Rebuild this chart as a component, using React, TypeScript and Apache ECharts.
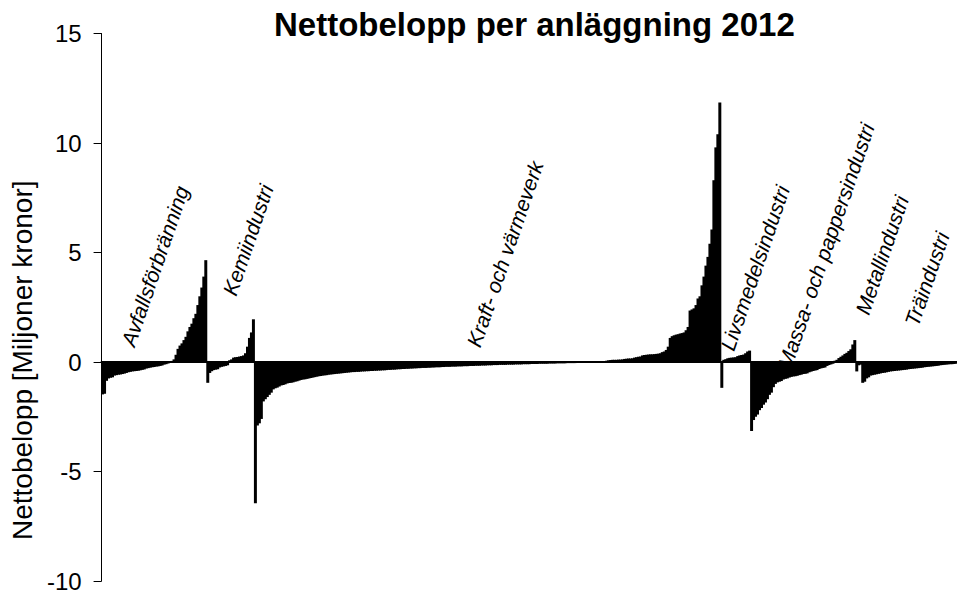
import React, { useEffect, useRef } from "react";
import * as echarts from "echarts";

const groupNames = [
  "Avfallsförbränning",
  "Kemiindustri",
  "Kraft- och värmeverk",
  "Livsmedelsindustri",
  "Massa- och pappersindustri",
  "Metallindustri",
  "Träindustri",
];

const avfall = [
  -1.48, -1.45, -0.86, -0.75, -0.72, -0.7, -0.62, -0.6, -0.58, -0.57, -0.55, -0.53, -0.5,
  -0.47, -0.45, -0.43, -0.42, -0.41, -0.4, -0.38, -0.36, -0.34, -0.3, -0.28, -0.26, -0.24,
  -0.23, -0.21, -0.2, -0.18, -0.16, -0.12, -0.1, -0.07, -0.04, 0.05, 0.12, 0.33, 0.6, 0.75,
  0.85, 1.0, 1.15, 1.4, 1.6, 1.75, 2.0, 2.2, 2.6, 3.0, 3.4, 3.9, 4.65,
];

const kemi = [
  -0.95, -0.5, -0.42, -0.37, -0.35, -0.33, -0.25, -0.22, -0.2, -0.18, -0.15, 0.08, 0.12,
  0.2, 0.22, 0.23, 0.25, 0.27, 0.3, 0.4, 0.7, 1.1, 1.35, 1.95,
];

const kraft = [
  -6.45, -2.9, -2.8, -2.6, -1.8, -1.7, -1.6, -1.5, -1.4,
  -1.25, -1.2, -1.17, -1.12,
  -1.07, -1.05, -1.02,
  -0.98, -0.96, -0.95, -0.93, -0.9, -0.88, -0.85,
  -0.82, -0.8, -0.79, -0.77, -0.75, -0.73, -0.71, -0.69,
  -0.67, -0.65, -0.64, -0.62, -0.61, -0.6, -0.58, -0.57,
  -0.56, -0.55, -0.54, -0.53, -0.52, -0.51, -0.5, -0.49, -0.48,
  -0.47, -0.46, -0.46, -0.45, -0.45, -0.44, -0.43, -0.43, -0.42, -0.42,
  -0.41, -0.41, -0.4, -0.4,
  -0.39, -0.39, -0.38, -0.38, -0.37, -0.36, -0.36, -0.35, -0.35, -0.34, -0.33, -0.33, -0.32,
  -0.32, -0.31, -0.31, -0.3,
  -0.3, -0.29, -0.29, -0.28, -0.28, -0.27, -0.27, -0.27, -0.26, -0.26, -0.25, -0.25, -0.24,
  -0.24, -0.24, -0.23,
  -0.23, -0.22, -0.22, -0.22, -0.21, -0.21, -0.21, -0.2, -0.2, -0.2, -0.19, -0.19, -0.19,
  -0.18, -0.18, -0.18, -0.17,
  -0.17, -0.17, -0.16, -0.16, -0.16, -0.15, -0.15, -0.15, -0.14, -0.14, -0.14, -0.13, -0.13,
  -0.13, -0.13, -0.12, -0.12,
  -0.12, -0.12, -0.11, -0.11, -0.11, -0.11, -0.1, -0.1, -0.1, -0.1, -0.09, -0.09, -0.09,
  -0.09, -0.08, -0.08,
  -0.08, -0.08, -0.08, -0.07, -0.07, -0.07, -0.07, -0.06, -0.06, -0.06, -0.06, -0.06, -0.05,
  -0.05, -0.05, -0.05, -0.05,
  -0.04, -0.04, -0.04, -0.03, -0.03, -0.03, -0.02, -0.02, -0.02, -0.01, -0.01, -0.01, 0,
  0.02, 0.04, 0.06, 0.08, 0.09, 0.1, 0.1, 0.1, 0.11, 0.11, 0.12,
  0.14, 0.15, 0.16, 0.16, 0.17,
  0.2, 0.22, 0.24, 0.25,
  0.3, 0.32, 0.33, 0.34, 0.35, 0.35, 0.36, 0.37, 0.38, 0.4,
  0.45, 0.48, 0.55, 0.7, 1.1, 1.18,
  1.22, 1.25, 1.27, 1.3, 1.32, 1.35,
  1.45, 1.6, 2.35, 2.4, 2.45, 2.6, 2.9, 3.0, 3.5, 3.9, 4.4, 4.8, 5.4, 6.05,
  8.3, 9.8, 10.4, 11.85,
];

const livsmedel = [
  -1.18, 0.1, 0.13, 0.17, 0.19, 0.2, 0.21, 0.22, 0.27, 0.3, 0.32, 0.34, 0.4, 0.48, 0.52,
];

const massa = [
  -3.15, -2.65, -2.5, -2.4, -2.2, -2.1, -1.95, -1.85, -1.7, -1.5, -1.4, -1.15,
  -1.0, -0.93, -0.9, -0.87, -0.8, -0.77, -0.75, -0.71, -0.68, -0.66, -0.65, -0.63,
  -0.6, -0.58, -0.55, -0.54, -0.52, -0.47, -0.44, -0.41, -0.39, -0.37,
  -0.32, -0.29, -0.27, -0.25, -0.18, -0.14, -0.11, -0.08,
  0.06, 0.1, 0.18, 0.24, 0.3, 0.37, 0.42, 0.5, 0.58, 0.8, 1.0,
];

const metall = [-0.43, -0.15, -0.12];

const tra = [
  -0.95, -0.9, -0.75, -0.7, -0.62, -0.6, -0.58, -0.56,
  -0.54, -0.52, -0.5, -0.49, -0.47, -0.45,
  -0.43, -0.42, -0.41, -0.4, -0.39, -0.38, -0.37, -0.36, -0.35,
  -0.33, -0.32, -0.31, -0.3, -0.29, -0.28, -0.27, -0.26,
  -0.24, -0.23, -0.22, -0.21, -0.2, -0.19, -0.18, -0.17,
  -0.15, -0.14, -0.13, -0.12, -0.11, -0.1, -0.1, -0.09, -0.08,
];

const yMin = -10;
const yMax = 15;
const yStep = 5;

const FONT = '"Liberation Sans", Arial, Helvetica, sans-serif';

export default function App() {
  const ref = useRef<HTMLDivElement>(null);

  useEffect(() => {
    document.body.style.margin = "0";
    const chart = echarts.init(ref.current!, null, { renderer: "svg" });
    const groups = [avfall, kemi, kraft, livsmedel, massa, metall, tra];
    const categories: string[] = [];
    const values: number[] = [];
    groups.forEach((g, gi) =>
      g.forEach((v, i) => {
        categories.push(`${groupNames[gi]} ${i + 1}`);
        values.push(v);
      })
    );

    const rot = (71 * Math.PI) / 180;
    const labelPos: [number, number][] = [
      [155, 266],
      [248, 240],
      [505, 254],
      [755, 268],
      [826, 246],
      [882, 255],
      [927, 279],
    ];
    const labels = groupNames.map((name, i) => ({
      type: "text",
      x: labelPos[i][0],
      y: labelPos[i][1],
      rotation: rot,
      z: 0,
      style: {
        text: name,
        font: `italic 21px ${FONT}`,
        fill: "#000",
        align: "center",
        verticalAlign: "middle",
      },
    }));

    chart.setOption({
      animation: false,
      backgroundColor: "#fff",
      title: {
        text: "Nettobelopp per anläggning 2012",
        left: 274,
        top: 8,
        padding: 0,
        textStyle: {
          fontFamily: FONT,
          fontSize: 33,
          fontWeight: "bold",
          color: "#000",
        },
      },
      grid: { left: 96, right: 0, top: 33.5, bottom: 8, containLabel: false },
      xAxis: {
        type: "category",
        data: categories,
        axisLine: { onZero: true, lineStyle: { color: "#000", width: 2 } },
        axisTick: { show: false },
        axisLabel: { show: false },
        splitLine: { show: false },
      },
      yAxis: {
        type: "value",
        min: yMin,
        max: yMax,
        interval: yStep,
        name: "Nettobelopp [Miljoner kronor]",
        nameLocation: "middle",
        nameGap: 53,
        nameTextStyle: {
          fontFamily: FONT,
          fontSize: 28,
          color: "#000",
          padding: [0, 106, 0, 0],
        },
        axisLine: { show: true, lineStyle: { color: "#000", width: 1 } },
        axisTick: { show: true, inside: false, length: 8, lineStyle: { color: "#000" } },
        axisLabel: { fontFamily: FONT, fontSize: 24, color: "#000", margin: 20 },
        splitLine: { show: false },
      },
      graphic: { elements: labels },
      series: [
        {
          type: "bar",
          data: values,
          barWidth: "150%",
          itemStyle: { color: "#000", borderWidth: 0 },
          emphasis: { disabled: true },
          z: 2,
        },
      ],
    });
    return () => chart.dispose();
  }, []);

  return (
    <div
      ref={ref}
      style={{ position: "fixed", left: 0, top: 0, width: 957, height: 593 }}
    />
  );
}
